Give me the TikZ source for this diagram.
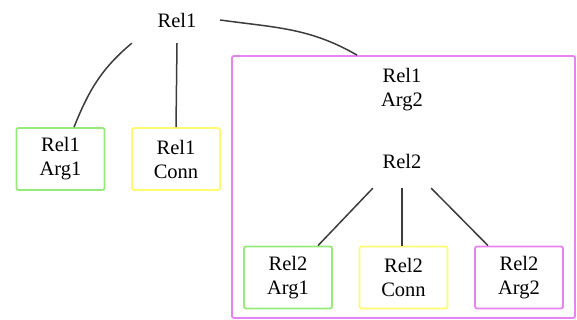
\documentclass[tikz,border=0pt]{standalone}
\usepackage{fontspec}
\setmainfont{Liberation Serif}
\usepackage{xcolor}
\usepackage{tikz}
\usetikzlibrary{positioning}
\definecolor{argone}{RGB}{150,235,120}
\definecolor{connyel}{RGB}{255,250,110}
\definecolor{argtwo}{RGB}{232,130,240}
\definecolor{linkgray}{RGB}{60,60,60}

\begin{document}
\begin{tikzpicture}[
  x=1pt, y=1pt,
  lbl/.style={align=center, inner sep=0pt, font=\fontsize{20.5}{24}\selectfont},
  box/.style={lbl, draw, line width=1.8pt, rounded corners=2pt,
              minimum width=88pt, minimum height=62pt},
  argbox/.style={box, draw=argone},
  connbox/.style={box, draw=connyel},
  arg2box/.style={box, draw=argtwo},
  link/.style={line width=1.5pt, color=linkgray}
]
  \useasboundingbox (0,0) rectangle (577,-320);

  \node[draw=argtwo, line width=1.8pt, rounded corners=2pt,
        minimum width=343pt, minimum height=262pt] (outer) at (403.5,-187) {};

  \node[lbl, minimum width=90pt, minimum height=46pt] (rel1) at (177,-20) {Rel1};
  \node[argbox] (r1arg1) at (60.5,-159) {Rel1\\Arg1};
  \node[connbox] (r1conn) at (176,-159) {Rel1\\Conn};

  \node[lbl] (r1arg2) at (402,-90) {Rel1\\Arg2};
  \node[lbl, minimum width=58pt, minimum height=54pt] (rel2) at (402,-161) {Rel2};
  \node[argbox] (r2arg1) at (288,-277.5) {Rel2\\Arg1};
  \node[connbox] (r2conn) at (403.5,-277.5) {Rel2\\Conn};
  \node[arg2box] (r2arg2) at (519,-277.5) {Rel2\\Arg2};

  \draw[link] (rel1.south west) to[out=-140, in=68] ([xshift=13.5pt]r1arg1.north);
  \draw[link] (rel1.south) -- (r1conn.north);
  \draw[link] ([xshift=-2pt]rel1.east) to[out=-8, in=150] ([xshift=-46.5pt]outer.north);

  \draw[link] (rel2.south west) -- ([xshift=30pt]r2arg1.north);
  \draw[link] (rel2.south) -- ([xshift=-1.5pt]r2conn.north);
  \draw[link] (rel2.south east) -- ([xshift=-31pt]r2arg2.north);
\end{tikzpicture}
\end{document}
